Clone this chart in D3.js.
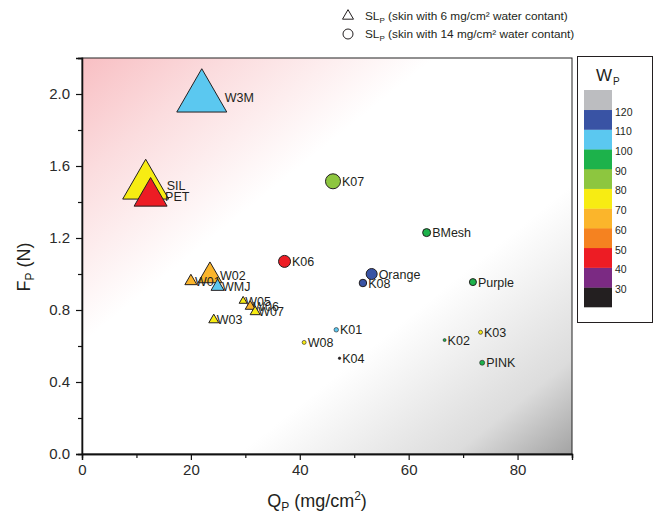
<html>
  <head>
    <title>Fp vs Qp</title>
    <script src="https://cdn.jsdelivr.net/npm/d3@7"></script>
    <style>
      body { margin: 0; background: #fff; }
      text { font-family: "Liberation Sans", Arial, sans-serif; }
    </style>
  </head>
  <body>
    <div id="d3"></div>
    <script>
      // sample names, Qp (mg/cm2), Fp (N), Wp, marker size, skin water content (6 = triangle, 14 = circle)
      let names = ["SIL", "PET", "W3M", "W02", "W01", "WMJ", "W05", "W06", "W07", "W03",
                   "K07", "K06", "Orange", "K08", "BMesh", "Purple", "K01", "W08", "K02", "K03", "PINK", "K04"]
      let qp = [11.7, 12.6, 22.0, 23.5, 20.0, 24.9, 29.6, 30.9, 31.8, 24.2,
                46.1, 37.2, 53.2, 51.6, 63.3, 71.8, 46.7, 40.8, 66.6, 73.2, 73.5, 47.3]
      let fp = [1.49, 1.43, 1.98, 0.99, 0.96, 0.93, 0.85, 0.82, 0.79, 0.745,
                1.515, 1.07, 1.0, 0.95, 1.23, 0.955, 0.69, 0.62, 0.633, 0.676, 0.507, 0.532]
      let wp = [75, 45, 105, 65, 65, 105, 75, 65, 75, 75,
                85, 45, 115, 115, 95, 95, 105, 75, 95, 75, 95, 25]
      let markSize = [46, 33, 50, 24, 12, 13, 8, 10, 10, 10,
                      15, 12, 11, 7.5, 8, 7, 4.5, 4, 3, 4, 5, 2.5]
      let water = [6, 6, 6, 6, 6, 6, 6, 6, 6, 6,
                   14, 14, 14, 14, 14, 14, 14, 14, 14, 14, 14, 14]

      let wpBreaks = [30, 40, 50, 60, 70, 80, 90, 100, 110, 120]
      let wpColors = ["#231f20", "#7b2a83", "#ed1c24", "#f58220", "#fbb52b", "#f7ec13",
                      "#8dc63f", "#1db24b", "#5bc8f0", "#3953a4", "#bcbdc0"]
      let xTicks = [0, 20, 40, 60, 80]
      let xMinor = [10, 30, 50, 70, 90]
      let yTicks = [0, 0.4, 0.8, 1.2, 1.6, 2.0]
      let yMinor = [0.2, 0.6, 1.0, 1.4, 1.8, 2.2]

      let data = {
        fullWidth: 660,
        fullHeight: 519,
        margin: { left: 82, right: 88, top: 58, bottom: 65 }
      }
      data.width = data.fullWidth - data.margin.left - data.margin.right
      data.height = data.fullHeight - data.margin.top - data.margin.bottom

      let points = names.map((n, i) => ({
        name: n, q: qp[i], f: fp[i], wp: wp[i], size: markSize[i], water: water[i]
      }))

      let svg = d3.select("#d3")
        .append("svg")
        .attr("width", data.fullWidth)
        .attr("height", data.fullHeight)

      let defs = svg.append("defs")
      let grad = defs.append("linearGradient")
        .attr("id", "bg")
        .attr("x1", 0).attr("y1", 0).attr("x2", 1).attr("y2", 1)
      grad.append("stop").attr("offset", 0).attr("stop-color", "#f8bfc3")
      grad.append("stop").attr("offset", 0.15).attr("stop-color", "#fbdcde")
      grad.append("stop").attr("offset", 0.36).attr("stop-color", "#ffffff")
      grad.append("stop").attr("offset", 0.66).attr("stop-color", "#ffffff")
      grad.append("stop").attr("offset", 0.88).attr("stop-color", "#dcdcdc")
      grad.append("stop").attr("offset", 1).attr("stop-color", "#a3a3a3")

      let x = d3.scaleLinear().domain([0, 90]).range([0, data.width])
      let y = d3.scaleLinear().domain([0, 2.2]).range([data.height, 0])
      let color = d3.scaleThreshold().domain(wpBreaks).range(wpColors)
      let sz = d3.scaleLinear().domain([0, 50]).range([0, 50])

      let plot = svg.append("g")
        .attr("transform", `translate(${data.margin.left},${data.margin.top})`)

      plot.append("rect")
        .attr("width", data.width)
        .attr("height", data.height)
        .attr("fill", "url(#bg)")
        .attr("stroke", "#222")
        .attr("stroke-width", 1)

      // axes
      plot.append("g")
        .attr("transform", `translate(0,${data.height})`)
        .call(d3.axisBottom(x).tickValues(xTicks).tickFormat(d3.format("d")).tickSize(6).tickPadding(4))
      plot.append("g")
        .attr("transform", `translate(0,${data.height})`)
        .call(d3.axisBottom(x).tickValues(xMinor).tickFormat("").tickSize(4))
      plot.append("g")
        .call(d3.axisLeft(y).tickValues(yTicks).tickFormat(d3.format(".1f")).tickSize(6).tickPadding(6))
      plot.append("g")
        .call(d3.axisLeft(y).tickValues(yMinor).tickFormat("").tickSize(4))

      plot.selectAll(".domain").attr("stroke", "#111").attr("stroke-width", 1.3)
      plot.selectAll(".tick line").attr("stroke", "#111").attr("stroke-width", 1.2)
      plot.selectAll(".tick text")
        .attr("font-size", 15)
        .attr("font-family", "Liberation Sans, Arial, sans-serif")
        .attr("fill", "#2a2a2a")

      // points
      let sym = d3.symbol()
        .type(d => d.water == 6 ? d3.symbolTriangle : d3.symbolCircle)
        .size(d => {
          let w = sz(d.size)
          return d.water == 6 ? Math.sqrt(3) / 4 * w * w : Math.PI * w * w / 4
        })

      let pt = plot.selectAll(".pt")
        .data(points)
        .enter()
        .append("g")
        .attr("class", "pt")
        .attr("transform", d => `translate(${x(d.q)},${y(d.f)})`)

      pt.append("path")
        .attr("d", sym)
        .attr("fill", d => color(d.wp))
        .attr("stroke", "#231f20")
        .attr("stroke-width", d => d.size > 6 ? 1 : 0.6)

      pt.append("text")
        .attr("x", d => d.water == 6 ? sz(d.size) / 2 - 2 : sz(d.size) / 2 + 1.5)
        .attr("dy", "0.36em")
        .attr("font-size", 12.5)
        .attr("fill", "#231f20")
        .text(d => d.name)

      // axis titles
      let xt = svg.append("text")
        .attr("x", 317)
        .attr("y", 507)
        .attr("text-anchor", "middle")
        .attr("font-size", 18)
        .attr("fill", "#231f20")
      xt.append("tspan").text("Q")
      xt.append("tspan").attr("font-size", 12).attr("dy", 4).text("P")
      xt.append("tspan").attr("dy", -4).text(" (mg/cm")
      xt.append("tspan").attr("font-size", 12).attr("dy", -7).text("2")
      xt.append("tspan").attr("dy", 7).text(")")

      let yt = svg.append("text")
        .attr("transform", "translate(30,267) rotate(-90)")
        .attr("text-anchor", "middle")
        .attr("font-size", 18)
        .attr("fill", "#231f20")
      yt.append("tspan").text("F")
      yt.append("tspan").attr("font-size", 12).attr("dy", 4).text("P")
      yt.append("tspan").attr("dy", -4).text(" (N)")

      // top legend (marker shape)
      let legendRows = [
        { water: 6, text: " (skin with 6 mg/cm² water contant)", y: 16 },
        { water: 14, text: " (skin with 14 mg/cm² water contant)", y: 34 }
      ]
      let lg = svg.append("g")
      let lgRow = lg.selectAll("g")
        .data(legendRows)
        .enter()
        .append("g")
        .attr("transform", d => `translate(348,${d.y})`)
      lgRow.append("path")
        .attr("d", d3.symbol()
          .type(d => d.water == 6 ? d3.symbolTriangle : d3.symbolCircle)
          .size(d => d.water == 6 ? Math.sqrt(3) / 4 * 11 * 11 : Math.PI * 25))
        .attr("fill", "none")
        .attr("stroke", "#231f20")
        .attr("stroke-width", 1)
      let lgText = lgRow.append("text")
        .attr("x", 17)
        .attr("dy", "0.36em")
        .attr("font-size", 11.8)
        .attr("font-family", "Lato, sans-serif")
        .attr("fill", "#231f20")
      lgText.append("tspan").text("SL")
      lgText.append("tspan").attr("font-size", 8).attr("dy", 3).text("P")
      lgText.append("tspan").attr("dy", -3).text(d => d.text)

      // Wp colour bar
      let cb = svg.append("g")
      cb.append("rect")
        .attr("x", 577.5).attr("y", 56.5)
        .attr("width", 75).attr("height", 266)
        .attr("fill", "#fff")
        .attr("stroke", "#231f20")
        .attr("stroke-width", 1)

      let cbY = d3.scaleLinear().domain([20, 130]).range([307, 90])
      let bandLo = [20].concat(wpBreaks)
      cb.selectAll(".band")
        .data(bandLo)
        .enter()
        .append("rect")
        .attr("class", "band")
        .attr("x", 584)
        .attr("width", 28)
        .attr("y", d => cbY(d + 10))
        .attr("height", d => cbY(d) - cbY(d + 10) + 0.3)
        .attr("fill", d => color(d + 5))

      cb.selectAll(".lbl")
        .data(wpBreaks)
        .enter()
        .append("text")
        .attr("class", "lbl")
        .attr("x", 615)
        .attr("y", d => cbY(d) + 2)
        .attr("dy", "0.36em")
        .attr("font-size", 10.5)
        .attr("fill", "#231f20")
        .text(d => d)

      let cbt = cb.append("text")
        .attr("x", 596)
        .attr("y", 81)
        .attr("font-size", 17)
        .attr("fill", "#231f20")
      cbt.append("tspan").text("W")
      cbt.append("tspan").attr("font-size", 10).attr("dy", 4).attr("dx", 1).text("P")
    </script>
  </body>
</html>
